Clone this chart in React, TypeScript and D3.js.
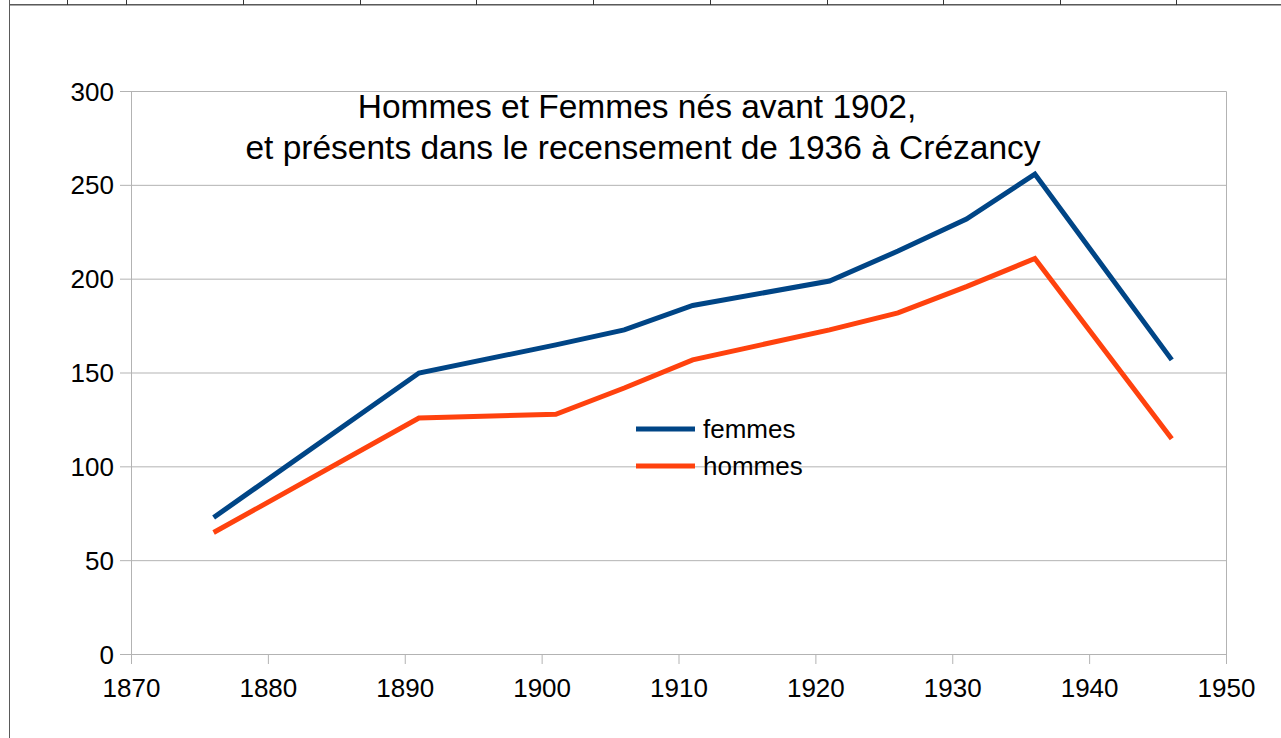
import React from 'react';
import * as d3 from 'd3';

// recensement data
const years = [1876, 1891, 1901, 1906, 1911, 1921, 1926, 1931, 1936, 1946];
const femmes = [73, 150, 165, 173, 186, 199, 215, 232, 256, 157];
const hommes = [65, 126, 128, 142, 157, 173, 182, 196, 211, 115];
const xTicks = [1870, 1880, 1890, 1900, 1910, 1920, 1930, 1940, 1950];
const yTicks = [0, 50, 100, 150, 200, 250, 300];
const seriesNames = ['femmes', 'hommes'];
const titleLines = ['Hommes et Femmes nés avant 1902,', 'et présents dans le recensement de 1936 à Crézancy'];

const W = 1281, H = 738;
const colors = ['#004586', '#ff420e'];
const font = '"Liberation Sans", Arial, sans-serif';
const grid = '#b3b3b3';

// spreadsheet cell separators behind the chart
const cellCols = [67, 126, 243, 360, 476, 593, 710, 827, 943, 1060, 1176];

const App = () => {
    const x = d3.scaleLinear().domain([1870, 1950]).range([131.5, 1226.5]);
    const y = d3.scaleLinear().domain([0, 300]).range([654.5, 91.5]);

    const line = d3.line<number>()
        .x((d, i) => x(years[i]))
        .y((d) => y(d));

    const series = [femmes, hommes];

    return (
        <svg width={W} height={H} style={{position: 'absolute', left: 0, top: 0, background: '#fff'}}>
            <rect width={W} height={H} fill="#fff"/>
            {/* sheet frame */}
            <line x1={9} x2={W} y1={4.5} y2={4.5} stroke="#5a5a5a" strokeWidth={1}/>
            <line x1={9} x2={W} y1={5.5} y2={5.5} stroke="#a8a8a8" strokeWidth={1}/>
            <line x1={9.5} x2={9.5} y1={0} y2={H} stroke="#5a5a5a" strokeWidth={1}/>
            {cellCols.map(c => (
                <line key={c} x1={c + 0.5} x2={c + 0.5} y1={0} y2={5} stroke="#333" strokeWidth={1}/>
            ))}

            {/* grid */}
            {yTicks.map(t => (
                <g key={t}>
                    <line x1={120} x2={1226.5} y1={y(t)} y2={y(t)} stroke={grid} strokeWidth={1}/>
                    <text x={114} y={y(t)} textAnchor="end" dominantBaseline="central"
                          fontFamily={font} fontSize={26} fill="#000">{t}</text>
                </g>
            ))}
            <line x1={x(1870)} x2={x(1870)} y1={y(300)} y2={664} stroke={grid} strokeWidth={1}/>
            <line x1={x(1950)} x2={x(1950)} y1={y(300)} y2={664} stroke={grid} strokeWidth={1}/>
            {xTicks.map(t => (
                <g key={t}>
                    <line x1={x(t)} x2={x(t)} y1={y(0)} y2={664} stroke={grid} strokeWidth={1}/>
                    <text x={x(t)} y={688} textAnchor="middle" dominantBaseline="central"
                          fontFamily={font} fontSize={26} fill="#000">{t}</text>
                </g>
            ))}

            {/* series */}
            {series.map((s, i) => (
                <path key={i} d={line(s) || ''} fill="none" stroke={colors[i]} strokeWidth={5}
                      strokeLinejoin="miter" strokeLinecap="butt"/>
            ))}

            {/* title */}
            {titleLines.map((t, i) => (
                <text key={i} x={i === 0 ? 637 : 643} y={118 + i * 41} textAnchor="middle"
                      fontFamily={font} fontSize={33.5} fill="#000">{t}</text>
            ))}

            {/* legend */}
            {seriesNames.map((n, i) => (
                <g key={n}>
                    <line x1={636} x2={695} y1={429 + i * 37} y2={429 + i * 37} stroke={colors[i]} strokeWidth={5}/>
                    <text x={703} y={429 + i * 37} dominantBaseline="central"
                          fontFamily={font} fontSize={26} fill="#000">{n}</text>
                </g>
            ))}
        </svg>
    );
};

export default App;
